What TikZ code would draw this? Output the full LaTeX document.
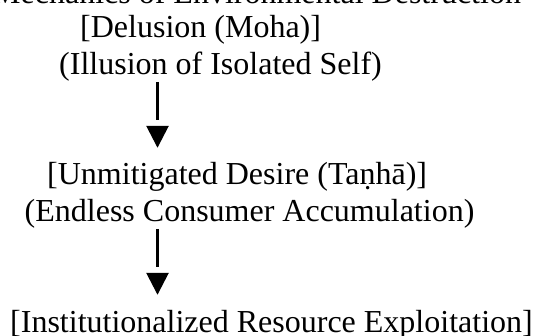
\documentclass[tikz,border=0pt]{standalone}
\usepackage{fontspec}
\setmainfont{Liberation Serif}
\usetikzlibrary{arrows.meta}
\begin{document}
\begin{tikzpicture}[
  x=1pt, y=-1pt,
  every node/.style = {inner sep=0pt, anchor=base west, text height=22pt, text depth=7pt,
                       font=\fontsize{32}{36.8}\selectfont},
  flow/.style = {line width=2.7pt, shorten >=15pt, dash pattern=on 38.5pt off 40pt,
                 -{Triangle[length=22pt,width=22pt]}}
]
  \clip (0,0) rectangle (534,336);
  \coordinate (axis) at (157.5,0);
  \node (title)    at (-8,4)        {Mechanics of Environmental Destruction};
  \node (delusion) at (80,38)       {[Delusion (Moha)]};
  \node (illusion) at (59,74.75)    {(Illusion of Isolated Self)};
  \node (desire)   at (47,185)      {[Unmitigated Desire (Taṇhā)]};
  \node (consume)  at (24.5,221.75) {(Endless Consumer Accumulation)};
  \node (exploit)  at (10,332)      {[Institutionalized Resource Exploitation]};
  \draw[flow] (illusion.south -| axis) -- (desire.north -| axis);
  \draw[flow] (consume.south -| axis) -- (exploit.north -| axis);
\end{tikzpicture}
\end{document}
